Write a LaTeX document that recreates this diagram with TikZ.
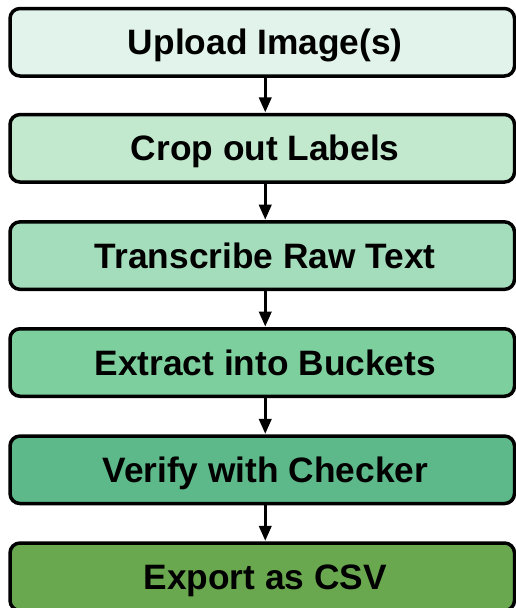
\documentclass[tikz,border=0pt]{standalone}
\usepackage{fontspec}
\setmainfont{Liberation Sans}
\usetikzlibrary{arrows.meta}
\definecolor{c1}{HTML}{E1F3EA}
\definecolor{c2}{HTML}{C2E9CE}
\definecolor{c3}{HTML}{A3DDBB}
\definecolor{c4}{HTML}{7ECF9E}
\definecolor{c5}{HTML}{5DB98A}
\definecolor{c6}{HTML}{6AA84F}
\tikzset{
  stepbox/.style={draw=black, line width=3.5pt, rounded corners=10pt,
    minimum width=504.5pt, minimum height=67.5pt, inner sep=0pt,
    text height=25pt, text depth=0pt,
    font=\fontsize{35.3}{40}\selectfont\bfseries, text=black},
  flow/.style={line width=2.6pt, -{Triangle[length=15pt,width=12.5pt]}, shorten >=0.5pt}
}
\begin{document}
\begin{tikzpicture}[x=1pt,y=-1pt]
\useasboundingbox (0,0) rectangle (516,608);
\begin{scope}
\clip (0,0) rectangle (516,608);
\node[stepbox, fill=c1] (b1) at (262.25,42.25) {\hspace{6pt}Upload Image(s)};
\node[stepbox, fill=c2] (b2) at (262.25,148.3) {\hspace{6pt}Crop out Labels};
\node[stepbox, fill=c3] (b3) at (262.25,255.6) {\hspace{6pt}Transcribe Raw Text};
\node[stepbox, fill=c4] (b4) at (262.25,362.5) {\hspace{6pt}Extract into Buckets};
\node[stepbox, fill=c5] (b5) at (262.25,469.8) {\hspace{6pt}Verify with Checker};
\node[stepbox, fill=c6] (b6) at (262.25,576.75) {\hspace{6pt}Export as CSV};
\foreach \a/\b in {b1/b2,b2/b3,b3/b4,b4/b5,b5/b6}
  \draw[flow] ([xshift=3pt]\a.south) -- ([xshift=3pt]\b.north);
\end{scope}
\end{tikzpicture}
\end{document}
